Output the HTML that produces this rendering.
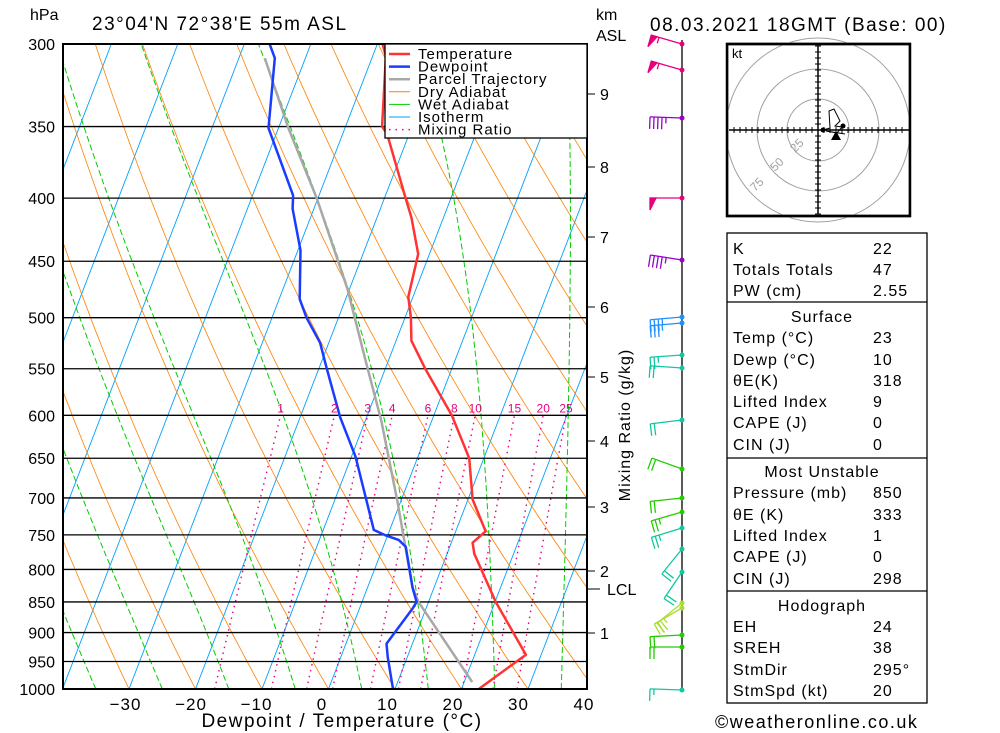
<!DOCTYPE html>
<html><head><meta charset="utf-8">
<style>
html,body{margin:0;padding:0;background:#fff;}
svg{display:block;font-family:"Liberation Sans",sans-serif;}
</style></head>
<body>
<svg id="chart" width="1000" height="733" viewBox="0 0 1000 733" xmlns="http://www.w3.org/2000/svg">
<defs><clipPath id="plotclip"><rect x="63" y="44" width="524" height="645"/></clipPath></defs>
<rect x="0" y="0" width="1000" height="733" fill="#fff"/>
<g id="bg" clip-path="url(#plotclip)"></g>
<g id="isobars"></g>
<g id="series" clip-path="url(#plotclip)"></g>
<rect x="63" y="44" width="524" height="645" fill="none" stroke="#000" stroke-width="2"/>
<g id="axes"></g>
<g id="legend"></g>
<g id="barbs"></g>
<g id="hodo"></g>
<g id="table"></g>
<text x="30" y="20" font-size="16">hPa</text>
<text x="92" y="30" font-size="19" letter-spacing="1.5">23°04'N 72°38'E 55m ASL</text>
<text x="596" y="20" font-size="16">km</text>
<text x="596" y="41" font-size="16">ASL</text>
<text x="650" y="31" font-size="19" letter-spacing="1.5">08.03.2021 18GMT (Base: 00)</text>
<text x="342" y="727" font-size="19" letter-spacing="1.5" text-anchor="middle">Dewpoint / Temperature (°C)</text>
<text x="0" y="0" font-size="16" letter-spacing="1" text-anchor="middle" transform="translate(630,425) rotate(-90)">Mixing Ratio (g/kg)</text>
<text x="715" y="728" font-size="18" letter-spacing="1.5">©weatheronline.co.uk</text>
</svg>
<script>
// ---- data ----
const pressureTicks = [300,350,400,450,500,550,600,650,700,750,800,850,900,950,1000];
const tempTicks = [-30,-20,-10,0,10,20,30,40];
const tempP = [300,307,350,355,398,415,444,481,500,522,550,600,650,702,745,761,777,850,938,1000];
const tempT = [-29.2,-28.0,-24.5,-23.3,-17.1,-14.8,-11.7,-10.7,-9.1,-7.7,-4.0,2.7,7.8,10.7,14.5,13.2,14.1,20.1,27.7,22.6];
const dewP = [300,308,351,398,408,441,483,500,524,550,602,648,702,743,750,757,767,828,850,860,919,943,1000];
const dewT = [-46.2,-44.6,-41.5,-33.9,-33.2,-29.6,-26.9,-24.8,-21.3,-18.8,-14.0,-9.4,-5.3,-2.4,-0.5,1.9,3.4,6.8,8.2,8.0,6.1,7.1,9.7];
const parcelP = [308,351,400,474,541,606,703,828,850,987];
const parcelT = [-46.1,-38.5,-30.2,-20.3,-13.5,-7.6,-0.6,6.8,8.5,21.2];
const mixRatios = [1,2,3,4,6,8,10,15,20,25];
const kmLabels = [1,2,3,4,5,6,7,8,9];
const kmY = [633,571,507,441,377,307,237,167,94];
const barbY = [44,70,118,198,260,317,323,355,368,420,469,498,512,528,549,572,603,608,635,647,690];
const barbDir = [286,286,272,270,279,265,265,266,274,263,290,264,254,253,219,214,231,240,267,270,272];
const barbSpd = [55,55,45,50,45,35,35,25,20,20,20,20,25,25,20,20,25,20,20,20,15];
const barbCol = ['#e6007e','#e6007e','#9900cc','#e6007e','#9900cc','#1e90ff','#1e90ff','#10c8a0','#10c8a0','#10c8a0','#22cc00','#22cc00','#22cc00','#10c8a0','#10c8a0','#10c8a0','#aadd33','#aadd33','#22cc00','#22cc00','#10c8a0'];
const tableRows = [
 ['K','22'],['Totals Totals','47'],['PW (cm)','2.55'],
 ['#Surface',''],['Temp (°C)','23'],['Dewp (°C)','10'],['θE(K)','318'],['Lifted Index','9'],['CAPE (J)','0'],['CIN (J)','0'],
 ['#Most Unstable',''],['Pressure (mb)','850'],['θE (K)','333'],['Lifted Index','1'],['CAPE (J)','0'],['CIN (J)','298'],
 ['#Hodograph',''],['EH','24'],['SREH','38'],['StmDir','295°'],['StmSpd (kt)','20']];

// ---- axis functions ----
const NS='http://www.w3.org/2000/svg';
const Y0=689, H=645, LN=Math.log(1000/300);
function yP(p){return Y0 - Math.log(1000/p)/LN*H;}
function xT(t,y){return 328.5 + 6.65*t + 0.385*(Y0-y);}
function mk(tag,attrs,parent){const e=document.createElementNS(NS,tag);for(const k in attrs)e.setAttribute(k,attrs[k]);parent.appendChild(e);return e;}
function pathFrom(ps,ts){let d='';for(let i=0;i<ps.length;i++){const y=yP(ps[i]);d+=(i?'L':'M')+xT(ts[i],y).toFixed(1)+','+y.toFixed(1);}return d;}

const bg=document.getElementById('bg');
for(let t=-120;t<=40;t+=10){
  const l=mk('line',{x1:xT(t,689),y1:689,x2:xT(t,44),y2:44,stroke:'#00a0ff','stroke-width':0.9},bg);
  
  
}
for(let th=-40;th<=200;th+=10){
  let d='';
  for(let p=1000;p>=300;p-=10){const T=(th+273.15)*Math.pow(p/1000,0.2857)-273.15;const y=yP(p);d+=(p==1000?'M':'L')+xT(T,y).toFixed(1)+','+y.toFixed(1);}
  const e=mk('path',{d:d,fill:'none',stroke:'#ff8000','stroke-width':0.8},bg);
  
  
}
function es(T){return 6.112*Math.exp(17.67*T/(T+243.5));}
for(let tw=-95;tw<=35;tw+=10){
  let T=tw+273.15, d='';
  for(let p=1000;p>=300;p-=2){
    const y=yP(p);
    if(p%10==0)d+=(p==1000?'M':'L')+xT(T-273.15,y).toFixed(1)+','+y.toFixed(1);
    const rs=0.622*es(T-273.15)/(p-es(T-273.15));
    const dTdp=(287*T+2.5e6*rs)/(p*(1004+2.5e6*2.5e6*rs*0.622/(287*T*T)));
    T-=dTdp*2;
  }
  const e=mk('path',{d:d,fill:'none',stroke:'#00cc00','stroke-width':1,'stroke-dasharray':'6,3'},bg);
  
  
}
function tdFromW(w,p){const e=w*p/(622+w);const a=Math.log(e/6.112);return 243.5*a/(17.67-a);}
mixRatios.forEach(w=>{
  let d='';
  for(let p=1000;p>=600;p-=10){const y=yP(p);d+=(p==1000?'M':'L')+xT(tdFromW(w,p),y).toFixed(1)+','+y.toFixed(1);}
  const e=mk('path',{d:d,fill:'none',stroke:'#e6007e','stroke-width':1.4,'stroke-dasharray':'1.5,4.5'},bg);
  
  
  const t=mk('text',{x:xT(tdFromW(w,600),yP(600)),y:yP(600)-3,'font-size':12,fill:'#e6007e','text-anchor':'middle'},document.getElementById('axes'));
  t.textContent=w;
  
  
});
const iso=document.getElementById('isobars'), ax=document.getElementById('axes');
pressureTicks.forEach(p=>{
  const y=yP(p);
  const l=mk('line',{x1:63,y1:y,x2:587,y2:y,stroke:'#000','stroke-width':1.3},iso);
  
  
  const t=mk('text',{x:55,y:y+6,'font-size':16,'text-anchor':'end'},ax);
  t.textContent=p;
  
  
});
tempTicks.forEach(v=>{
  const t=mk('text',{x:322+6.55*v,y:710,'font-size':17,'text-anchor':'middle','letter-spacing':1},ax);
  t.textContent=v<0?'−'+(-v):v;
  
  
});
kmLabels.forEach((k,i)=>{
  mk('line',{x1:587,y1:kmY[i],x2:595,y2:kmY[i],stroke:'#000','stroke-width':1},ax);
  const t=mk('text',{x:600,y:kmY[i]+6,'font-size':16},ax);
  t.textContent=k;
  
  
});
mk('line',{x1:587,y1:589,x2:600,y2:589,stroke:'#000','stroke-width':1},ax);
const lcl=mk('text',{x:607,y:595,'font-size':16},ax);lcl.textContent='LCL';



const ser=document.getElementById('series');
[[parcelP,parcelT,'#a8a8a8','parcel-trajectory'],[dewP,dewT,'#1a3cff','dewpoint-line'],[tempP,tempT,'#ff3333','temperature-line']].forEach(s=>{
  const e=mk('path',{d:pathFrom(s[0],s[1]),fill:'none',stroke:s[2],'stroke-width':2.5,'stroke-linejoin':'round'},ser);
  
  
});

const lg=document.getElementById('legend');
mk('rect',{x:385,y:44,width:202,height:94,fill:'#fff',stroke:'#000','stroke-width':1.3},lg);
const legItems=[['Temperature','#ff3333',2.5,''],['Dewpoint','#1a3cff',2.5,''],['Parcel Trajectory','#a8a8a8',2.5,''],['Dry Adiabat','#ff8000',1,''],['Wet Adiabat','#00cc00',1,''],['Isotherm','#00a0ff',1,''],['Mixing Ratio','#e6007e',1.5,'1.5,5']];
legItems.forEach((it,i)=>{
  const y=54+i*12.6;
  const g=mk('g',{},lg);
  
  
  const a={x1:389,y1:y,x2:410,y2:y,stroke:it[1],'stroke-width':it[2]};
  if(it[3])a['stroke-dasharray']=it[3];
  mk('line',a,g);
  const t=mk('text',{x:418,y:y+5,'font-size':15,'letter-spacing':1},g);t.textContent=it[0];
});

const bb=document.getElementById('barbs');
mk('line',{x1:682,y1:40,x2:682,y2:690,stroke:'#000','stroke-width':1.3},bb);
barbY.forEach((y,i)=>{
  const g=mk('g',{stroke:barbCol[i],fill:barbCol[i],'stroke-width':1.3},bb);
  
  
  const a=barbDir[i]*Math.PI/180, L=32;
  const ux=Math.sin(a), uy=-Math.cos(a);
  const ex=682+ux*L, ey=y+uy*L;
  mk('line',{x1:682,y1:y,x2:ex,y2:ey},g);
  mk('circle',{cx:682,cy:y,r:2.5,stroke:'none'},g);
  const fx=uy, fy=-ux;
  let s=barbSpd[i], pos=0;
  const fl=12;
  function pt(d){return [ex-ux*d, ey-uy*d];}
  while(s>=50){const p1=pt(pos),p2=pt(pos+6);mk('polygon',{points:`${p1[0]},${p1[1]} ${p2[0]},${p2[1]} ${p1[0]+fx*fl},${p1[1]+fy*fl}`},g);pos+=8;s-=50;}
  while(s>=10){const p=pt(pos);mk('line',{x1:p[0],y1:p[1],x2:p[0]+fx*fl,y2:p[1]+fy*fl},g);pos+=4;s-=10;}
  if(s>=5){if(pos==0)pos=4;const p=pt(pos);mk('line',{x1:p[0],y1:p[1],x2:p[0]+fx*fl/2,y2:p[1]+fy*fl/2},g);}
});

const hd=document.getElementById('hodo');
mk('rect',{x:727,y:44,width:183,height:172,fill:'#fff',stroke:'#000','stroke-width':2.5},hd);
const hc=[818,130];
[31,61,92].forEach(r=>{const c=mk('circle',{cx:hc[0],cy:hc[1],r:r,fill:'none',stroke:'#a0a0a0','stroke-width':1},hd);
 
 });
mk('rect',{x:700,y:30,width:26,height:200,fill:'#fff'},hd);
mk('rect',{x:911,y:30,width:30,height:200,fill:'#fff'},hd);
mk('rect',{x:727,y:44,width:183,height:172,fill:'none',stroke:'#000','stroke-width':2.5},hd);
mk('line',{x1:729,y1:130,x2:909,y2:130,stroke:'#000','stroke-width':1.5},hd);
mk('line',{x1:818,y1:46,x2:818,y2:214,stroke:'#000','stroke-width':1.5},hd);
for(let d=-84;d<=84;d+=6){if(d==0)continue;
 mk('line',{x1:hc[0]+d,y1:127,x2:hc[0]+d,y2:133,stroke:'#000','stroke-width':1},hd);
 mk('line',{x1:815,y1:hc[1]+d,x2:821,y2:hc[1]+d,stroke:'#000','stroke-width':1},hd);}
[['25',795,153],['50',775,172],['75',755,192]].forEach(l=>{const t=mk('text',{x:l[1],y:l[2],'font-size':12,fill:'#a0a0a0',transform:`rotate(-45 ${l[1]} ${l[2]})`},hd);t.textContent=l[0];});
const kt=mk('text',{x:732,y:58,'font-size':13},hd);kt.textContent='kt';
mk('polyline',{points:'823,130 830,128 829,111 834,109 840,121 835,126 842,127 837,133 826,131 845,134',fill:'none',stroke:'#000','stroke-width':1},hd);
mk('circle',{cx:823,cy:130,r:2.5},hd);
mk('circle',{cx:843,cy:126,r:2.5},hd);
mk('polygon',{points:'831,140 841,140 836,131'},hd);

const tb=document.getElementById('table');
mk('rect',{x:727,y:233,width:200,height:470,fill:'none',stroke:'#000','stroke-width':1.3},tb);
[302,458,591].forEach(y=>mk('line',{x1:727,y1:y,x2:927,y2:y,stroke:'#000','stroke-width':1.3},tb));
const rowY=[248,269,290,316,337,359,380,401,422,444,471,492,514,535,556,578,605,626,647,669,690];
tableRows.forEach((r,i)=>{
  const g=mk('g',{},tb);
  
  
  if(r[0][0]=='#'){const t=mk('text',{x:822,y:rowY[i]+6,'font-size':16,'letter-spacing':1,'text-anchor':'middle'},g);t.textContent=r[0].slice(1);}
  else{const t=mk('text',{x:733,y:rowY[i]+6,'font-size':16,'letter-spacing':1},g);t.textContent=r[0];
   const v=mk('text',{x:873,y:rowY[i]+6,'font-size':16,'letter-spacing':1},g);v.textContent=r[1];}
});
</script>
</body></html>
